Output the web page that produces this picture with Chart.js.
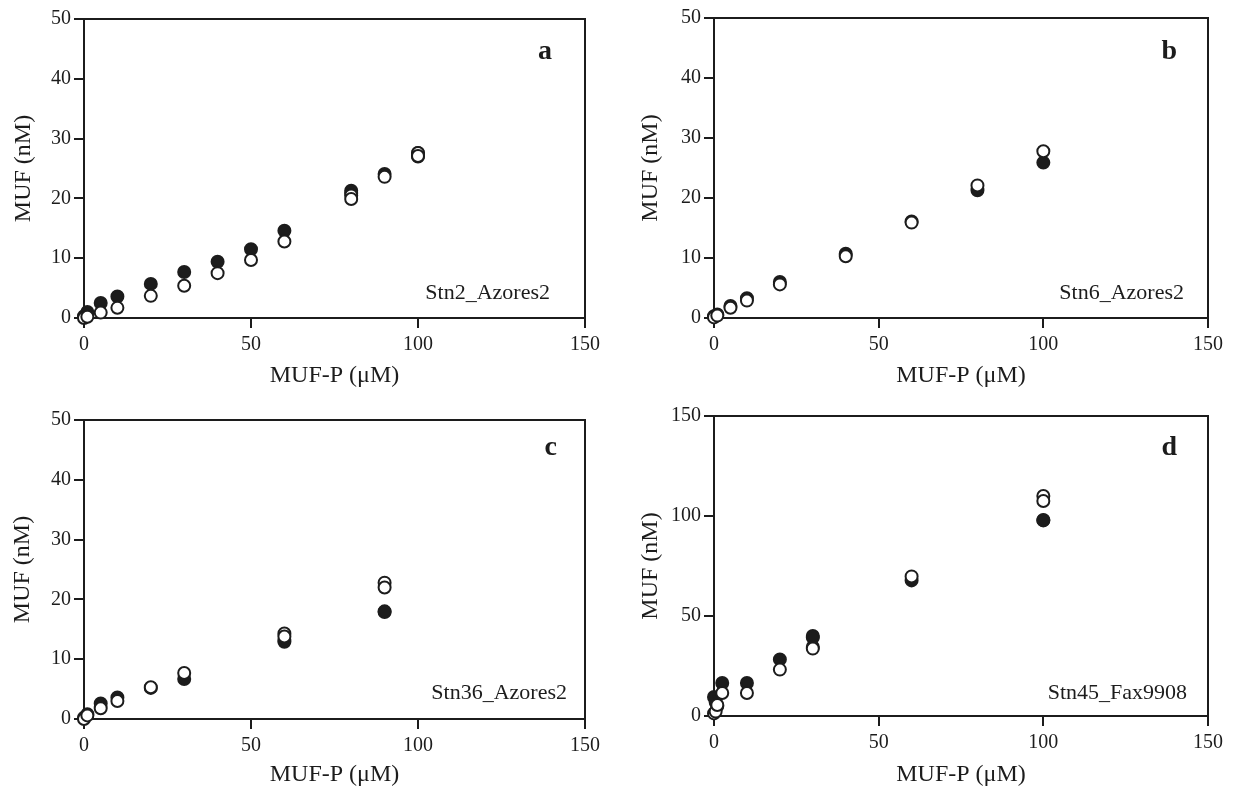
<!DOCTYPE html>
<html>
<head>
<meta charset="utf-8">
<script src="https://cdn.jsdelivr.net/npm/chart.js@4.4.1/dist/chart.umd.min.js"></script>
<style>
  body { margin: 0; background: #fff; width: 1238px; height: 793px; overflow: hidden; position: relative; }
  canvas { position: absolute; }
</style>
</head>
<body>
<canvas id="pa" width="610" height="395" style="left:0px;top:0px"></canvas>
<canvas id="pb" width="608" height="395" style="left:630px;top:0px"></canvas>
<canvas id="pc" width="610" height="393" style="left:0px;top:400px"></canvas>
<canvas id="pd" width="608" height="393" style="left:630px;top:400px"></canvas>
<script>
// x ticks shared by all panels
const xTicks = [0, 50, 100, 150];
const yTicksSmall = [0, 10, 20, 30, 40, 50];
const yTicksLarge = [0, 50, 100, 150];

// panel a - Stn2_Azores2
const aConc   = [0, 1, 5, 10, 20, 30, 40, 50, 60, 80, 80, 90, 100, 100];
const aFilled = [0.3, 1.0, 2.5, 3.6, 5.7, 7.7, 9.4, 11.5, 14.6, 21.3, 20.9, 24.1, 27.0, 27.6];
const aOpen   = [0, 0.2, 0.9, 1.7, 3.7, 5.4, 7.5, 9.7, 12.8, 20.5, 19.9, 23.6, 27.6, 27.1];

// panel b - Stn6_Azores2
const bConc   = [0, 1, 5, 10, 20, 40, 60, 80, 100];
const bFilled = [0.3, 0.6, 2.0, 3.3, 6.0, 10.7, 16.1, 21.3, 25.9];
const bOpen   = [0.1, 0.4, 1.7, 2.9, 5.6, 10.3, 15.9, 22.1, 27.8];

// panel c - Stn36_Azores2
const cConc   = [0, 1, 5, 10, 20, 30, 60, 60, 90, 90];
const cFilled = [0.2, 0.8, 2.6, 3.6, 5.2, 6.7, 12.9, 13.2, 17.9, 18.0];
const cOpen   = [0, 0.6, 1.8, 3.0, 5.3, 7.7, 14.3, 13.8, 22.8, 22.0];

// panel d - Stn45_Fax9908
const dConc   = [0, 0.5, 1, 2.5, 10, 20, 30, 30, 60, 100, 100];
const dFilled = [9.5, 7.0, 5.0, 16.5, 16.5, 28.3, 40.0, 39.2, 67.8, 97.8, 98.0];
const dOpen   = [1.3, 2.2, 5.5, 11.5, 11.5, 23.2, 34.5, 33.7, 69.8, 110, 107.5];

const INK = '#1c1c1c';
const SERIF = "'Liberation Serif', 'Times New Roman', serif";

function pts(xs, ys){
  return xs.map((x, i) => ({ x: x, y: ys[i] }));
}

const frameAndText = {
  id: 'frameAndText',
  afterDraw(chart, args, o){
    const { ctx, chartArea: a } = chart;
    ctx.save();
    ctx.strokeStyle = INK;
    ctx.lineWidth = 2;
    ctx.beginPath();
    ctx.moveTo(a.left, a.top);
    ctx.lineTo(a.right, a.top);
    ctx.lineTo(a.right, a.bottom);
    ctx.stroke();
    ctx.fillStyle = INK;
    ctx.textAlign = 'right';
    ctx.textBaseline = 'middle';
    ctx.font = 'bold 28px ' + SERIF;
    ctx.fillText(o.letter, a.right - o.letterPos[0], a.top + o.letterPos[1]);
    ctx.font = '22px ' + SERIF;
    ctx.fillText(o.label, a.right - o.labelPos[0], a.bottom - o.labelPos[1]);
    ctx.restore();
  }
};

function makePanel(id, conc, filled, open, p){
  new Chart(document.getElementById(id), {
    type: 'scatter',
    data: {
      datasets: [
        { data: pts(conc, open), backgroundColor: '#fff', borderColor: INK,
          pointRadius: 6, pointBorderWidth: 2, clip: false, order: 1 },
        { data: pts(conc, filled), backgroundColor: INK, borderColor: INK,
          pointRadius: 6, pointBorderWidth: 2, clip: false, order: 2 }
      ]
    },
    options: {
      responsive: false,
      animation: false,
      events: [],
      layout: { padding: { top: p.padTop, right: p.padRight, left: 0, bottom: 0 } },
      plugins: {
        legend: { display: false },
        tooltip: { enabled: false },
        frameAndText: { letter: p.letter, label: p.label, letterPos: p.letterPos, labelPos: p.labelPos }
      },
      scales: {
        x: {
          type: 'linear', min: 0, max: 150,
          afterBuildTicks(axis){ axis.ticks = xTicks.map(v => ({ value: v })); },
          afterFit(axis){ axis.height = p.xAxisH; },
          grid: { drawOnChartArea: false, drawTicks: true, tickLength: 10, color: INK, lineWidth: 2 },
          border: { display: true, color: INK, width: 2 },
          ticks: { color: INK, font: { family: SERIF, size: 20 }, padding: 5, maxRotation: 0 },
          title: { display: true, text: 'MUF-P (\u03bcM)', color: INK,
                   font: { family: SERIF, size: 24 }, padding: { top: 0, bottom: p.xTitlePad } }
        },
        y: {
          type: 'linear', min: 0, max: p.yTicks[p.yTicks.length - 1],
          afterBuildTicks(axis){ axis.ticks = p.yTicks.map(v => ({ value: v })); },
          afterFit(axis){ axis.width = 84; },
          grid: { drawOnChartArea: false, drawTicks: true, tickLength: 10, color: INK, lineWidth: 2 },
          border: { display: true, color: INK, width: 2 },
          ticks: { color: INK, font: { family: SERIF, size: 20 }, padding: 3 },
          title: { display: true, text: 'MUF (nM)', color: INK,
                   font: { family: SERIF, size: 24 }, padding: { top: p.yTitlePad, bottom: 0 } }
        }
      }
    },
    plugins: [frameAndText]
  });
}

makePanel('pa', aConc, aFilled, aOpen, {
  padTop: 19, padRight: 25, xAxisH: 77, yTitlePad: 9, xTitlePad: 5, yTicks: yTicksSmall,
  letter: 'a', label: 'Stn2_Azores2', letterPos: [33, 33], labelPos: [35, 25]
});
makePanel('pb', bConc, bFilled, bOpen, {
  padTop: 18, padRight: 30, xAxisH: 77, yTitlePad: 6, xTitlePad: 5, yTicks: yTicksSmall,
  letter: 'b', label: 'Stn6_Azores2', letterPos: [31, 34], labelPos: [24, 25]
});
makePanel('pc', cConc, cFilled, cOpen, {
  padTop: 20, padRight: 25, xAxisH: 74, yTitlePad: 8, xTitlePad: 4, yTicks: yTicksSmall,
  letter: 'c', label: 'Stn36_Azores2', letterPos: [28, 28], labelPos: [18, 26]
});
makePanel('pd', dConc, dFilled, dOpen, {
  padTop: 16, padRight: 30, xAxisH: 77, yTitlePad: 6, xTitlePad: 4, yTicks: yTicksLarge,
  letter: 'd', label: 'Stn45_Fax9908', letterPos: [31, 32], labelPos: [21, 23]
});
</script>
</body>
</html>
